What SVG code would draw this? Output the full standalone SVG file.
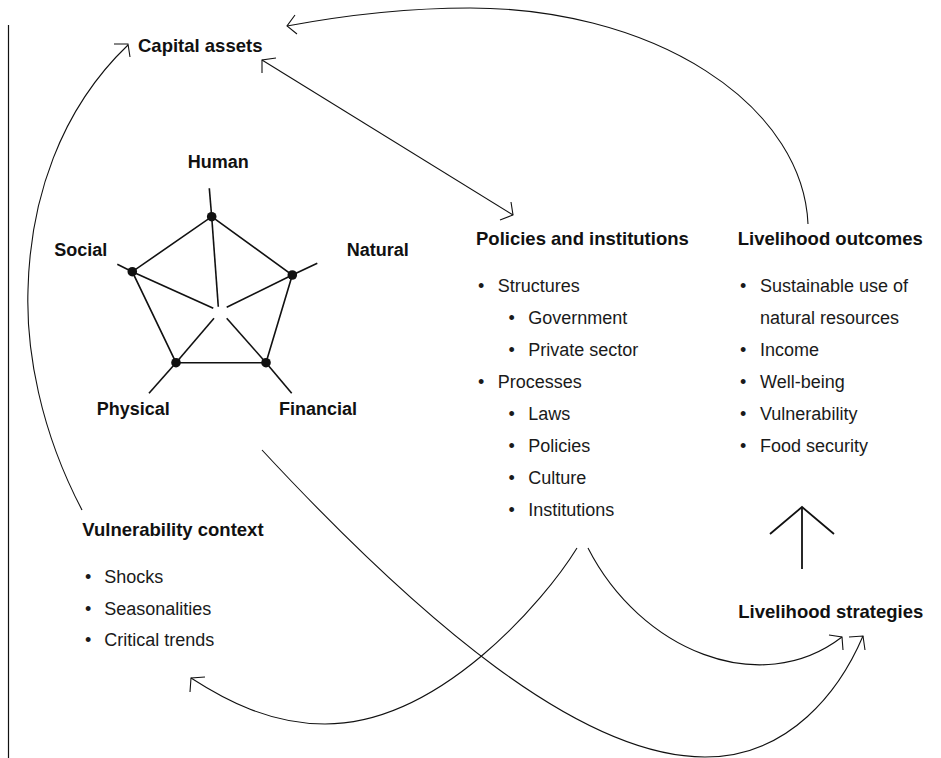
<svg xmlns="http://www.w3.org/2000/svg" width="941" height="758" viewBox="0 0 941 758">
<style>
  .h { font-family: "Liberation Sans", Arial, sans-serif; font-weight: bold; font-size: 18.5px; fill: #111; }
  .lb { font-family: "Liberation Sans", Arial, sans-serif; font-weight: bold; font-size: 18px; fill: #111; }
  .t { font-family: "Liberation Sans", Arial, sans-serif; font-size: 18px; fill: #1a1a1a; }
  .c { fill: none; stroke: #111; stroke-width: 1.1; }
  .ah { fill: none; stroke: #111; stroke-width: 1.1; stroke-linejoin: miter; }
  .p { fill: none; stroke: #111; stroke-width: 1.6; }
  .dot { fill: #111; }
</style>
<rect width="941" height="758" fill="#fff"/>
<line x1="8.5" y1="25" x2="8.5" y2="758" stroke="#111" stroke-width="1.2"/>

<g id="capital-assets">
  <text class="h" x="138" y="52">Capital assets</text>
</g>

<g id="pentagon">
  <polygon class="p" points="211.7,216.7 292.3,275 266,362.7 176,362.7 132.3,271.7"/>
  <line class="p" x1="211.7" y1="216.7" x2="209.3" y2="188.3"/>
  <line class="p" x1="292.3" y1="275" x2="317.3" y2="263.3"/>
  <line class="p" x1="266" y1="362.7" x2="291.7" y2="393.3"/>
  <line class="p" x1="176" y1="362.7" x2="149" y2="393.3"/>
  <line class="p" x1="132.3" y1="271.7" x2="117.3" y2="264.3"/>
  <line class="p" x1="211.7" y1="216.7" x2="218.3" y2="306.7"/>
  <line class="p" x1="292.3" y1="275" x2="226.7" y2="307.3"/>
  <line class="p" x1="132.3" y1="271.7" x2="213.3" y2="308.3"/>
  <line class="p" x1="176" y1="362.7" x2="214" y2="318.3"/>
  <line class="p" x1="266" y1="362.7" x2="226.7" y2="318.3"/>
  <circle class="dot" cx="211.7" cy="216.7" r="4.8"/>
  <circle class="dot" cx="292.3" cy="275" r="4.8"/>
  <circle class="dot" cx="266" cy="362.7" r="4.8"/>
  <circle class="dot" cx="176" cy="362.7" r="4.8"/>
  <circle class="dot" cx="132.3" cy="271.7" r="4.8"/>
  <text class="lb" x="187.7" y="168.3">Human</text>
  <text class="lb" x="346.7" y="256">Natural</text>
  <text class="lb" x="54.3" y="256">Social</text>
  <text class="lb" x="96.7" y="415">Physical</text>
  <text class="lb" x="279" y="415">Financial</text>
</g>

<g id="policies-institutions">
  <text class="h" x="476" y="245">Policies and institutions</text>
  <text class="t" x="478" y="292">•</text><text class="t" x="497.7" y="292">Structures</text>
  <text class="t" x="508.5" y="324">•</text><text class="t" x="528.3" y="324">Government</text>
  <text class="t" x="508.5" y="356">•</text><text class="t" x="528.3" y="356">Private sector</text>
  <text class="t" x="478" y="388">•</text><text class="t" x="497.7" y="388">Processes</text>
  <text class="t" x="508.5" y="420">•</text><text class="t" x="528.3" y="420">Laws</text>
  <text class="t" x="508.5" y="452">•</text><text class="t" x="528.3" y="452">Policies</text>
  <text class="t" x="508.5" y="484">•</text><text class="t" x="528.3" y="484">Culture</text>
  <text class="t" x="508.5" y="516">•</text><text class="t" x="528.3" y="516">Institutions</text>
</g>

<g id="livelihood-outcomes">
  <text class="h" x="737.7" y="245">Livelihood outcomes</text>
  <text class="t" x="740" y="292">•</text><text class="t" x="760" y="292">Sustainable use of</text>
  <text class="t" x="760" y="324">natural resources</text>
  <text class="t" x="740" y="356">•</text><text class="t" x="760" y="356">Income</text>
  <text class="t" x="740" y="388">•</text><text class="t" x="760" y="388">Well-being</text>
  <text class="t" x="740" y="420">•</text><text class="t" x="760" y="420">Vulnerability</text>
  <text class="t" x="740" y="452">•</text><text class="t" x="760" y="452">Food security</text>
</g>

<g id="vulnerability-context">
  <text class="h" x="82.3" y="536">Vulnerability context</text>
  <text class="t" x="85" y="583">•</text><text class="t" x="104.3" y="583">Shocks</text>
  <text class="t" x="85" y="614.5">•</text><text class="t" x="104.3" y="614.5">Seasonalities</text>
  <text class="t" x="85" y="646">•</text><text class="t" x="104.3" y="646">Critical trends</text>
</g>

<g id="livelihood-strategies">
  <text class="h" x="738.3" y="618.3">Livelihood strategies</text>
</g>

<g id="connectors">
  <!-- outcomes to capital assets -->
  <path class="c" d="M808,224 A338,222 0 0 0 470,8 C400,8 330,18 287,26"/>
  <polyline class="ah" points="295,15 287,26 297,34"/>
  <!-- capital assets <-> policies -->
  <line class="c" x1="262" y1="60" x2="513" y2="215"/>
  <polyline class="ah" points="276,58 262,60 262,73"/>
  <polyline class="ah" points="511,202 513,215 500,220"/>
  <!-- vulnerability to capital assets -->
  <path class="c" d="M82,510 C40,430 26,350 28,290 C30,200 60,110 128,45"/>
  <polyline class="ah" points="114,44 128,44 130,57"/>
  <!-- policies to vulnerability -->
  <path class="c" d="M577,548 C545,600 440,724 325,724 C270,724 225,700 191,678"/>
  <polyline class="ah" points="205,677 191,678 190,692"/>
  <!-- policies to strategies -->
  <path class="c" d="M588,548 C640,650 760,700 842,637"/>
  <polyline class="ah" points="829,635 842,637 843,650"/>
  <!-- capital assets (pentagon) to strategies -->
  <path class="c" d="M262,450 C420,620 580,757 705,757 C790,757 840,690 863,636"/>
  <polyline class="ah" points="849,637 863,636 865,650"/>
  <!-- strategies to outcomes -->
  <line x1="802" y1="569" x2="802" y2="507" stroke="#111" stroke-width="1.8"/>
  <polyline points="770,534 802,507 834,534" fill="none" stroke="#111" stroke-width="1.8"/>
</g>
</svg>
